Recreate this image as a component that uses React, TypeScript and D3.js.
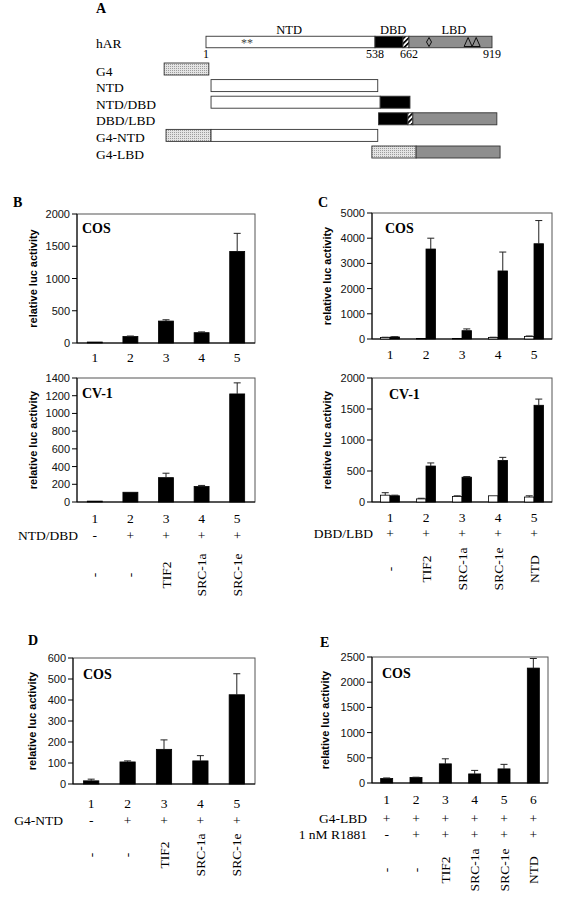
import React from 'react';
import * as d3 from 'd3';

const SERIF = '"Liberation Serif","Times New Roman",serif';
const SANS = '"Liberation Sans",Arial,sans-serif';

// ---------------- Panel A data ----------------
const harLandmarks = [1, 538, 662, 919];
const harLandmarkLabels = ['1', '538', '662', '919'];
const harDomainNames = ['NTD', 'DBD', 'LBD'];
const harDomainCenters = [265, 604, 801];
const harSegments: [string, number, number][] = [
  ['white', 1, 538], ['black', 538, 640], ['hatch', 640, 662], ['gray', 662, 919],
];
const harStarsAt = 131;
const harDiamondAt = 724;
const harTrianglesAt = [845, 870];
const constructNames = ['G4', 'NTD', 'NTD/DBD', 'DBD/LBD', 'G4-NTD', 'G4-LBD'];
const constructSegments: [string, number, number][][] = [
  [['dots', -132, 10]],
  [['white', 17, 548]],
  [['white', 17, 557], ['black', 557, 665]],
  [['black', 551, 658], ['hatch', 658, 674], ['gray', 674, 934]],
  [['dots', -126, 17], ['white', 17, 548]],
  [['dots', 528, 684], ['gray', 684, 944]],
];

// ---------------- Panel B data ----------------
const bCats = ['1', '2', '3', '4', '5'];
const bCosValues = [15, 100, 340, 160, 1420];
const bCosErrors = [0, 8, 20, 12, 280];
const bCv1Values = [10, 110, 275, 175, 1220];
const bCv1Errors = [0, 0, 50, 12, 125];
const bCosTicks = [0, 500, 1000, 1500, 2000];
const bCv1Ticks = [0, 200, 400, 600, 800, 1000, 1200, 1400];
const bRowName = 'NTD/DBD';
const bRowSigns = ['-', '+', '+', '+', '+'];
const bCoactivators = ['-', '-', 'TIF2', 'SRC-1a', 'SRC-1e'];

// ---------------- Panel C data ----------------
const cCats = ['1', '2', '3', '4', '5'];
const cCosOpen = [60, 20, 20, 60, 100];
const cCosOpenErr = [10, 0, 0, 10, 20];
const cCosFilled = [80, 3570, 330, 2700, 3780];
const cCosFilledErr = [10, 430, 70, 750, 920];
const cCv1Open = [110, 50, 90, 100, 80];
const cCv1OpenErr = [40, 10, 10, 0, 20];
const cCv1Filled = [100, 580, 400, 670, 1560];
const cCv1FilledErr = [10, 50, 10, 50, 100];
const cCosTicks = [0, 1000, 2000, 3000, 4000, 5000];
const cCv1Ticks = [0, 500, 1000, 1500, 2000];
const cRowName = 'DBD/LBD';
const cRowSigns = ['+', '+', '+', '+', '+'];
const cCoactivators = ['-', 'TIF2', 'SRC-1a', 'SRC-1e', 'NTD'];

// ---------------- Panel D data ----------------
const dCats = ['1', '2', '3', '4', '5'];
const dValues = [15, 105, 165, 110, 425];
const dErrors = [8, 5, 45, 25, 100];
const dTicks = [0, 100, 200, 300, 400, 500, 600];
const dRowName = 'G4-NTD';
const dRowSigns = ['-', '+', '+', '+', '+'];
const dCoactivators = ['-', '-', 'TIF2', 'SRC-1a', 'SRC-1e'];

// ---------------- Panel E data ----------------
const eCats = ['1', '2', '3', '4', '5', '6'];
const eValues = [90, 110, 380, 180, 280, 2280];
const eErrors = [10, 5, 100, 70, 90, 190];
const eTicks = [0, 500, 1000, 1500, 2000, 2500];
const eRowNames = ['G4-LBD', '1 nM R1881'];
const eRowSigns = [
  ['+', '+', '+', '+', '+', '+'],
  ['-', '+', '+', '+', '+', '+'],
];
const eCoactivators = ['-', '-', 'TIF2', 'SRC-1a', 'SRC-1e', 'NTD'];

const yTitle = 'relative luc activity';

type Series = { values: number[]; errs: number[]; fill: string };

function band(cats: string[], x0: number, x1: number, pad: number) {
  return d3.scaleBand<string>().domain(cats).range([x0, x1]).paddingInner(pad).paddingOuter(pad / 2);
}

function BarChart(props: {
  cats: string[]; x0: number; x1: number; yTop: number; yBottom: number;
  ticks: number[]; series: Series[]; pad: number; cell: string; cellX: number; cellY: number;
  titleX: number; numBaseline: number;
}) {
  const { cats, x0, x1, yTop, yBottom, ticks, series, pad, cell, cellX, cellY, titleX, numBaseline } = props;
  const x = band(cats, x0, x1, pad);
  const sub = d3.scaleBand<number>().domain(d3.range(series.length)).range([0, x.bandwidth()]);
  const y = d3.scaleLinear().domain([0, d3.max(ticks) as number]).range([yBottom, yTop]);
  const midY = (yTop + yBottom) / 2;
  return (
    <g>
      <rect x={x0} y={yTop} width={x1 - x0} height={yBottom - yTop} fill="none" stroke="#555" strokeWidth={1} />
      <line x1={x0} x2={x0} y1={yTop} y2={yBottom} stroke="#000" />
      <line x1={x0} x2={x1} y1={yBottom} y2={yBottom} stroke="#000" />
      {ticks.map((t) => (
        <g key={t}>
          <line x1={x0 - 5} x2={x0} y1={y(t)} y2={y(t)} stroke="#000" />
          <text x={x0 - 7} y={y(t)} textAnchor="end" dominantBaseline="central"
            fontFamily={SANS} fontSize={11} fill="#111">{t}</text>
        </g>
      ))}
      {series.map((s, si) =>
        cats.map((c, i) => {
          const bx = (x(c) as number) + (sub(si) as number);
          const bw = sub.bandwidth();
          const v = s.values[i];
          const e = s.errs[i];
          const cx = bx + bw / 2;
          return (
            <g key={`${si}-${c}`}>
              <rect x={bx} y={y(v)} width={bw} height={yBottom - y(v)} fill={s.fill}
                stroke="#000" strokeWidth={0.8} />
              {e > 0 && (
                <g stroke="#222" strokeWidth={1}>
                  <line x1={cx} x2={cx} y1={y(v)} y2={y(v + e)} />
                  <line x1={cx - 3.5} x2={cx + 3.5} y1={y(v + e)} y2={y(v + e)} />
                </g>
              )}
            </g>
          );
        })
      )}
      <text x={cellX} y={cellY} fontFamily={SERIF} fontWeight="bold" fontSize={14}>{cell}</text>
      <text transform={`translate(${titleX},${midY}) rotate(-90)`} textAnchor="middle"
        dominantBaseline="central" fontFamily={SANS} fontWeight="bold" fontSize={11}>{yTitle}</text>
      {cats.map((c) => (
        <text key={c} x={(x(c) as number) + x.bandwidth() / 2} y={numBaseline} textAnchor="middle"
          fontFamily={SERIF} fontSize={13.5}>{c}</text>
      ))}
    </g>
  );
}

function Rows(props: {
  cats: string[]; x0: number; x1: number; pad: number;
  names: string[]; signs: string[][]; baselines: number[]; nameRight: number;
  coact: string[]; coactCenter: number;
}) {
  const { cats, x0, x1, pad, names, signs, baselines, nameRight, coact, coactCenter } = props;
  const x = band(cats, x0, x1, pad);
  const cx = (c: string) => (x(c) as number) + x.bandwidth() / 2;
  return (
    <g fontFamily={SERIF} fontSize={13.5}>
      {names.map((n, ri) => (
        <g key={n}>
          <text x={nameRight} y={baselines[ri]} textAnchor="end">{n}</text>
          {cats.map((c, i) => (
            <text key={c} x={cx(c)} y={baselines[ri]} textAnchor="middle">{signs[ri][i]}</text>
          ))}
        </g>
      ))}
      {cats.map((c, i) => (
        <text key={c} transform={`translate(${cx(c)},${coactCenter}) rotate(-90)`} textAnchor="middle"
          dominantBaseline="central">{coact[i]}</text>
      ))}
    </g>
  );
}

function PanelA() {
  const xs = d3.scaleLinear().domain(harLandmarks).range([206, 375, 409, 492]);
  const rowY = d3.scalePoint<string>().domain(constructNames).range([69, 152]);
  const fillFor = (k: string) =>
    k === 'white' ? '#fff' : k === 'black' ? '#000' : k === 'gray' ? '#8e8e8e' : k === 'hatch' ? 'url(#hatch)' : 'url(#dots)';
  const harY = 42;
  const h = 11.5;
  return (
    <g>
      <defs>
        <pattern id="hatch" patternUnits="userSpaceOnUse" width={3.5} height={3.5} patternTransform="rotate(45)">
          <rect width={3.5} height={3.5} fill="#fff" />
          <rect width={1.7} height={3.5} fill="#000" />
        </pattern>
        <pattern id="dots" patternUnits="userSpaceOnUse" width={2} height={2}>
          <rect width={2} height={2} fill="#e4e4e4" />
          <rect width={0.9} height={0.9} fill="#8a8a8a" />
        </pattern>
      </defs>
      <text x={96} y={13} fontFamily={SERIF} fontWeight="bold" fontSize={14}>A</text>
      <text x={96} y={48} fontFamily={SERIF} fontSize={13.5}>hAR</text>
      {harDomainNames.map((n, i) => (
        <text key={n} x={xs(harDomainCenters[i])} y={34} textAnchor="middle" fontFamily={SERIF} fontSize={12.5}>{n}</text>
      ))}
      {harSegments.map(([k, s, e]) => (
        <rect key={k + s} x={xs(s)} y={harY - h / 2} width={xs(e) - xs(s)} height={h}
          fill={fillFor(k)} stroke="#333" strokeWidth={0.9} />
      ))}
      <text x={xs(harStarsAt)} y={harY + 5} textAnchor="middle" fontFamily={SERIF} fontSize={12} fill="#444">**</text>
      <polygon
        points={`${xs(harDiamondAt)},${harY - 4.5} ${xs(harDiamondAt) + 2.5},${harY} ${xs(harDiamondAt)},${harY + 4.5} ${xs(harDiamondAt) - 2.5},${harY}`}
        fill="none" stroke="#000" strokeWidth={0.9} />
      {harTrianglesAt.map((t) => (
        <polygon key={t}
          points={`${xs(t) - 4},${harY + 4.5} ${xs(t)},${harY - 4.5} ${xs(t) + 4},${harY + 4.5}`}
          fill="none" stroke="#000" strokeWidth={0.9} />
      ))}
      {harLandmarks.map((l, i) => (
        <text key={l} x={xs(l)} y={58} textAnchor="middle" fontFamily={SERIF} fontSize={12}>{harLandmarkLabels[i]}</text>
      ))}
      {constructNames.map((n, ri) => (
        <g key={n}>
          <text x={96} y={(rowY(n) as number) + 6.5} fontFamily={SERIF} fontSize={13.5}>{n}</text>
          {constructSegments[ri].map(([k, s, e]) => (
            <rect key={k + s} x={xs(s)} y={(rowY(n) as number) - 6} width={xs(e) - xs(s)} height={12}
              fill={fillFor(k)} stroke="#333" strokeWidth={0.9} />
          ))}
        </g>
      ))}
    </g>
  );
}

export default function App() {
  const padB = 0.58;
  const padC = 0.47;
  const padE = 0.59;
  return (
    <svg width={570} height={900} viewBox="0 0 570 900"
      style={{ position: 'absolute', left: 0, top: 0, background: '#fff' }}>
      <rect width={570} height={900} fill="#fff" />
      <PanelA />

      {/* Panel B */}
      <text x={13} y={207} fontFamily={SERIF} fontWeight="bold" fontSize={14}>B</text>
      <BarChart cats={bCats} x0={77} x1={255} yTop={214} yBottom={343} ticks={bCosTicks}
        series={[{ values: bCosValues, errs: bCosErrors, fill: '#000' }]} pad={padB}
        cell="COS" cellX={82} cellY={233} titleX={33} numBaseline={362} />
      <BarChart cats={bCats} x0={77} x1={255} yTop={378} yBottom={502} ticks={bCv1Ticks}
        series={[{ values: bCv1Values, errs: bCv1Errors, fill: '#000' }]} pad={padB}
        cell="CV-1" cellX={82} cellY={398} titleX={33} numBaseline={523} />
      <Rows cats={bCats} x0={77} x1={255} pad={padB} names={[bRowName]} signs={[bRowSigns]}
        baselines={[540]} nameRight={78} coact={bCoactivators} coactCenter={575} />

      {/* Panel C */}
      <text x={318} y={207} fontFamily={SERIF} fontWeight="bold" fontSize={14}>C</text>
      <BarChart cats={cCats} x0={372} x1={552} yTop={213} yBottom={339} ticks={cCosTicks}
        series={[
          { values: cCosOpen, errs: cCosOpenErr, fill: '#fff' },
          { values: cCosFilled, errs: cCosFilledErr, fill: '#000' },
        ]} pad={padC}
        cell="COS" cellX={385} cellY={233} titleX={327} numBaseline={359} />
      <BarChart cats={cCats} x0={372} x1={552} yTop={378} yBottom={502} ticks={cCv1Ticks}
        series={[
          { values: cCv1Open, errs: cCv1OpenErr, fill: '#fff' },
          { values: cCv1Filled, errs: cCv1FilledErr, fill: '#000' },
        ]} pad={padC}
        cell="CV-1" cellX={389} cellY={399} titleX={327} numBaseline={522} />
      <Rows cats={cCats} x0={372} x1={552} pad={padC} names={[cRowName]} signs={[cRowSigns]}
        baselines={[538]} nameRight={373} coact={cCoactivators} coactCenter={569} />

      {/* Panel D */}
      <text x={28} y={645} fontFamily={SERIF} fontWeight="bold" fontSize={14}>D</text>
      <BarChart cats={dCats} x0={73} x1={255} yTop={658} yBottom={784} ticks={dTicks}
        series={[{ values: dValues, errs: dErrors, fill: '#000' }]} pad={padB}
        cell="COS" cellX={83} cellY={679} titleX={32} numBaseline={808} />
      <Rows cats={dCats} x0={73} x1={255} pad={padB} names={[dRowName]} signs={[dRowSigns]}
        baselines={[825]} nameRight={63} coact={dCoactivators} coactCenter={855} />

      {/* Panel E */}
      <text x={320} y={647} fontFamily={SERIF} fontWeight="bold" fontSize={14}>E</text>
      <BarChart cats={eCats} x0={372} x1={548} yTop={657} yBottom={783} ticks={eTicks}
        series={[{ values: eValues, errs: eErrors, fill: '#000' }]} pad={padE}
        cell="COS" cellX={382} cellY={678} titleX={325} numBaseline={804} />
      <Rows cats={eCats} x0={372} x1={548} pad={padE} names={eRowNames} signs={eRowSigns}
        baselines={[823, 839]} nameRight={367} coact={eCoactivators} coactCenter={870} />
    </svg>
  );
}
